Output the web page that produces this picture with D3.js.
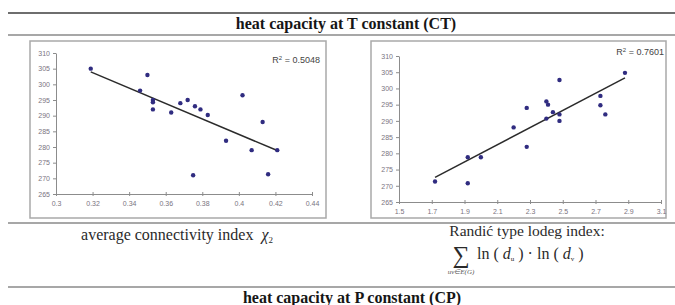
<!DOCTYPE html>
<html>
<head>
<meta charset="utf-8">
<script src="https://cdn.jsdelivr.net/npm/d3@7"></script>
<style>
  body { margin: 0; background: #fff; }
  .serif { font-family: 'Liberation Serif', serif; }
  .tick text { font-family: 'Liberation Sans', Arial, sans-serif; font-size: 7px; fill: #7a7480; }
  .tick line, .domain { stroke: #8c8c8c; }
</style>
</head>
<body>
<div id="chart"></div>
<script>
// left panel: average connectivity index vs CT
let chiValues = [0.319, 0.346, 0.350, 0.353, 0.353, 0.353, 0.363, 0.368, 0.372, 0.376, 0.379, 0.383, 0.375, 0.393, 0.402, 0.407, 0.413, 0.416, 0.421]
let ctLeft = [305, 298, 303, 295, 294.3, 292, 291, 294, 295, 293, 292, 290.2, 271, 282, 296.5, 279, 288, 271.3, 279]
// right panel: Randic type lodeg index vs CT
let lodegValues = [1.72, 1.92, 1.92, 2.00, 2.20, 2.28, 2.28, 2.40, 2.41, 2.44, 2.40, 2.48, 2.48, 2.48, 2.73, 2.73, 2.76, 2.88]
let ctRight = [271.3, 270.8, 278.8, 278.8, 288, 294, 282, 296, 295, 292.7, 290.7, 302.6, 292, 290, 297.7, 294.8, 292, 304.8]

let yTicks = [265, 270, 275, 280, 285, 290, 295, 300, 305, 310]
let leftXTicks = [0.3, 0.32, 0.34, 0.36, 0.38, 0.4, 0.42, 0.44]
let leftXLabels = ['0.3', '0.32', '0.34', '0.36', '0.38', '0.4', '0.42', '0.44']
let rightXTicks = [1.5, 1.7, 1.9, 2.1, 2.3, 2.5, 2.7, 2.9, 3.1]
let rightXLabels = ['1.5', '1.7', '1.9', '2.1', '2.3', '2.5', '2.7', '2.9', '3.1']
let rSquared = ['0.5048', '0.7601']

let width = 675
let height = 305

let svg = d3.select('#chart').append('svg')
  .attr('width', width)
  .attr('height', height)

// page rules
let rule = (y, w, c) => {
  svg.append('line')
    .attr('x1', 8).attr('x2', width)
    .attr('y1', y).attr('y2', y)
    .attr('stroke', c).attr('stroke-width', w)
}
rule(13, 2, '#6e6e6e')
rule(35, 1.5, '#8a8a8a')
rule(223, 1.5, '#8a8a8a')
rule(287, 1.5, '#8a8a8a')

svg.append('text')
  .attr('class', 'serif')
  .attr('x', 346).attr('y', 29)
  .attr('text-anchor', 'middle')
  .attr('font-weight', 'bold')
  .attr('font-size', 16)
  .attr('fill', '#161616')
  .text('heat capacity at T constant (CT)')

svg.append('text')
  .attr('class', 'serif')
  .attr('x', 352).attr('y', 303)
  .attr('text-anchor', 'middle')
  .attr('font-weight', 'bold')
  .attr('font-size', 16)
  .attr('fill', '#161616')
  .text('heat capacity at P constant (CP)')

let linReg = (xs, ys) => {
  let mx = d3.mean(xs)
  let my = d3.mean(ys)
  let sxy = d3.sum(xs, (x, i) => (x - mx) * (ys[i] - my))
  let sxx = d3.sum(xs, (x) => (x - mx) * (x - mx))
  let slope = sxy / sxx
  return (x) => my + slope * (x - mx)
}

let drawPanel = (box, plot, xDomain, xTicks, xLabels, xs, ys, r2, r2Pos) => {
  svg.append('rect')
    .attr('x', box[0]).attr('y', box[1])
    .attr('width', box[2]).attr('height', box[3])
    .attr('fill', '#fff')
    .attr('stroke', '#a9a9a9')
    .attr('stroke-width', 1.5)

  let x = d3.scaleLinear().domain(xDomain).range([plot.left, plot.right])
  let y = d3.scaleLinear().domain([265, 310]).range([plot.bottom, plot.top])

  svg.append('g')
    .attr('transform', 'translate(0,' + plot.bottom + ')')
    .call(d3.axisBottom(x).tickValues(xTicks).tickFormat((d, i) => xLabels[i])
      .tickSizeInner(2).tickSizeOuter(0).tickPadding(5))
    .call(g => g.selectAll('.tick line').attr('y1', -2))

  svg.append('g')
    .attr('transform', 'translate(' + plot.left + ',0)')
    .call(d3.axisLeft(y).tickValues(yTicks).tickSizeInner(3).tickSizeOuter(0).tickPadding(3))

  let fit = linReg(xs, ys)
  let ext = d3.extent(xs)
  svg.append('line')
    .attr('x1', x(ext[0])).attr('y1', y(fit(ext[0])))
    .attr('x2', x(ext[1])).attr('y2', y(fit(ext[1])))
    .attr('stroke', '#2b2b2b')
    .attr('stroke-width', 1.5)

  svg.append('g').selectAll('circle')
    .data(xs)
    .enter().append('circle')
    .attr('cx', (d) => x(d))
    .attr('cy', (d, i) => y(ys[i]))
    .attr('r', 2.2)
    .attr('fill', '#302c80')

  let t = svg.append('text')
    .attr('x', r2Pos[0]).attr('y', r2Pos[1])
    .attr('text-anchor', 'end')
    .style('font-family', "'Liberation Sans', Arial, sans-serif")
    .attr('font-size', 9)
    .attr('fill', '#444')
  t.append('tspan').text('R')
  t.append('tspan').attr('font-size', 6).attr('dy', -3.5).text('2')
  t.append('tspan').attr('dy', 3.5).text(' = ' + r2)
}

drawPanel([30, 41, 296, 177], { left: 56, right: 312, top: 53, bottom: 194 },
  [0.3, 0.44], leftXTicks, leftXLabels, chiValues, ctLeft, rSquared[0], [320, 63])
drawPanel([371, 41, 295, 177], { left: 399, right: 661, top: 56, bottom: 202 },
  [1.5, 3.1], rightXTicks, rightXLabels, lodegValues, ctRight, rSquared[1], [664, 55])

// captions
let cap = svg.append('text')
  .attr('class', 'serif')
  .attr('x', 177).attr('y', 240)
  .attr('text-anchor', 'middle')
  .attr('font-size', 16)
  .attr('fill', '#2a2a2a')
cap.append('tspan').text('average connectivity index')
cap.append('tspan').attr('dx', 8).attr('font-style', 'italic').text('χ')
cap.append('tspan').attr('font-size', 9).attr('dy', 3).text('2')

svg.append('text')
  .attr('class', 'serif')
  .attr('x', 527).attr('y', 236)
  .attr('text-anchor', 'middle')
  .attr('font-size', 15.5)
  .attr('fill', '#2a2a2a')
  .text('Randić type lodeg index:')

svg.append('text')
  .attr('class', 'serif')
  .attr('x', 461).attr('y', 263)
  .attr('text-anchor', 'middle')
  .attr('font-size', 24)
  .attr('fill', '#2a2a2a')
  .text('∑')

svg.append('text')
  .attr('class', 'serif')
  .attr('x', 461).attr('y', 274)
  .attr('text-anchor', 'middle')
  .attr('font-size', 7)
  .attr('font-style', 'italic')
  .attr('fill', '#555')
  .text('uv∈E(G)')

let formula = svg.append('text')
  .attr('class', 'serif')
  .attr('x', 477).attr('y', 259)
  .attr('font-size', 16)
  .attr('fill', '#2a2a2a')
formula.append('tspan').text('ln ( ')
formula.append('tspan').attr('font-style', 'italic').text('d')
formula.append('tspan').attr('font-size', 7).attr('dy', 2).text('u')
formula.append('tspan').attr('dy', -2).text(' ) · ln ( ')
formula.append('tspan').attr('font-style', 'italic').text('d')
formula.append('tspan').attr('font-size', 7).attr('dy', 2).text('v')
formula.append('tspan').attr('dy', -2).text(' )')
</script>
</body>
</html>
